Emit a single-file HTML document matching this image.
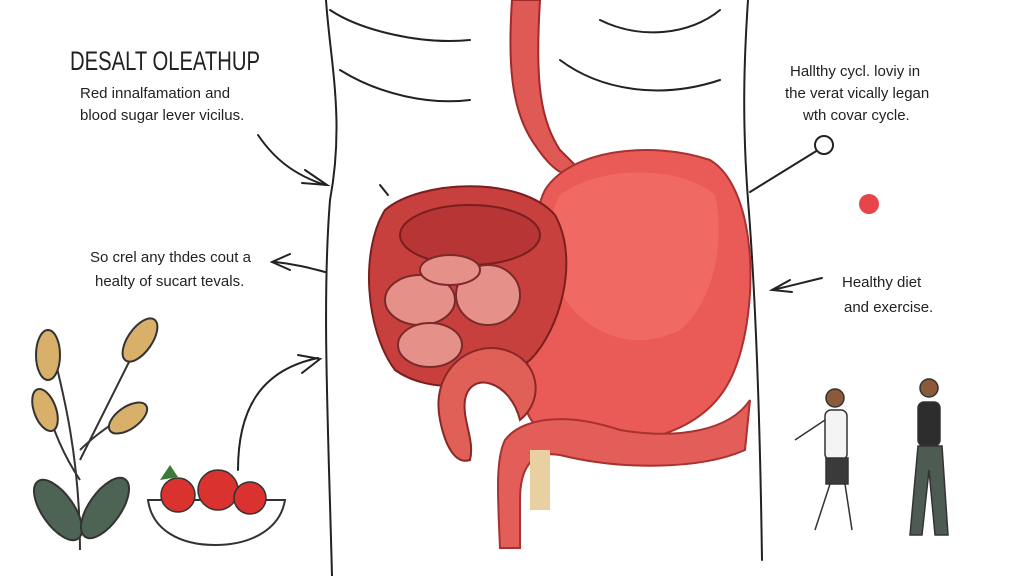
<!DOCTYPE html>
<html><head><meta charset="utf-8"><style>
body{margin:0;background:#fff;width:1024px;height:576px;overflow:hidden}
svg{display:block}
text{font-family:"Liberation Sans",sans-serif;fill:#222}
</style></head><body>
<svg width="1024" height="576" viewBox="0 0 1024 576">
<g fill="none" stroke="#222" stroke-width="2" stroke-linecap="round">
<path d="M326 0 C330 60 345 120 330 200 C322 300 328 420 332 576"/>
<path d="M748 0 C744 60 742 120 748 200 C756 300 760 420 762 560"/>
<path d="M330 10 C360 30 420 45 470 40"/><path d="M340 70 C380 95 430 105 470 100"/>
<path d="M600 20 C640 40 690 35 720 10"/><path d="M560 60 C600 90 660 100 720 80"/>
<path d="M380 185 l8 10"/>
<path d="M258 135 C275 160 295 175 325 185"/><path d="M305 170 l22 15 l-25 -2"/>
<path d="M325 272 C310 268 295 264 275 262"/><path d="M290 254 l-18 8 l18 8"/>
<path d="M238 470 C238 410 260 370 318 358"/><path d="M298 355 l22 4 l-18 14"/>
<path d="M822 278 C805 282 790 286 772 290"/><path d="M790 280 l-18 10 l20 2"/>
<path d="M750 192 L818 150"/>
</g>
<circle cx="824" cy="145" r="9" fill="#fff" stroke="#222" stroke-width="2"/>
<circle cx="869" cy="204" r="10" fill="#e8454a"/>
<path d="M512 0 C508 60 510 110 535 145 C555 175 570 180 580 170 L560 150 C540 120 535 80 540 0Z" fill="#e05a55" stroke="#a02a2a" stroke-width="2"/>
<path d="M545 190 C570 150 650 140 710 160 C760 190 760 320 730 380 C700 440 620 450 560 440 C520 430 510 380 540 340 C560 300 520 240 545 190Z" fill="#ea5b57" stroke="#a83232" stroke-width="2"/>
<path d="M560 195 C600 165 680 165 715 195 C725 240 715 300 680 330 C630 355 580 330 560 290 C545 260 545 220 560 195Z" fill="#f06a63"/>
<path d="M505 440 C520 420 560 410 620 430 C680 440 730 430 750 400 L745 450 C700 470 620 470 560 455 C530 450 520 470 520 500 L520 548 L500 548 C498 500 495 460 505 440Z" fill="#e35e58" stroke="#a83232" stroke-width="2"/>
<path d="M385 210 C420 180 520 175 555 215 C580 260 560 330 530 360 C490 390 430 395 395 370 C365 330 360 250 385 210Z" fill="#c8403d" stroke="#7a1e1e" stroke-width="2"/>
<ellipse cx="470" cy="235" rx="70" ry="30" fill="#b83535" stroke="#7a1e1e" stroke-width="2"/>
<g fill="#e59088" stroke="#7a2a2a" stroke-width="2">
<ellipse cx="420" cy="300" rx="35" ry="25"/><ellipse cx="430" cy="345" rx="32" ry="22"/>
<ellipse cx="488" cy="295" rx="32" ry="30"/><ellipse cx="450" cy="270" rx="30" ry="15"/>
</g>
<path d="M440 420 C430 370 470 340 505 350 C540 360 545 400 520 420 C510 380 470 370 465 400 C462 420 475 440 470 460 C455 465 445 445 440 420Z" fill="#e06058" stroke="#8a2828" stroke-width="2"/>
<rect x="530" y="450" width="20" height="60" fill="#e8d0a0"/>
<text x="70" y="70" font-size="27" textLength="190" lengthAdjust="spacingAndGlyphs">DESALT OLEATHUP</text>
<text x="80" y="98" font-size="15">Red innalfamation and</text>
<text x="80" y="120" font-size="15">blood sugar lever vicilus.</text>
<text x="90" y="262" font-size="15">So crel any thdes cout a</text>
<text x="95" y="286" font-size="15">healty of sucart tevals.</text>
<text x="790" y="76" font-size="15">Hallthy cycl. loviy in</text>
<text x="785" y="98" font-size="15">the verat vically legan</text>
<text x="803" y="120" font-size="15">wth covar cycle.</text>
<text x="842" y="287" font-size="15">Healthy diet</text>
<text x="844" y="312" font-size="15">and exercise.</text>
<g stroke="#333" stroke-width="2">
<path d="M80 550 C80 450 60 380 50 340 M80 460 C100 420 120 380 140 340 M80 480 C60 450 50 420 45 400 M80 450 C100 430 120 420 130 410" fill="none"/>
<ellipse cx="48" cy="355" rx="12" ry="25" fill="#d9b06a"/>
<ellipse cx="140" cy="340" rx="12" ry="25" fill="#d9b06a" transform="rotate(35 140 340)"/>
<ellipse cx="45" cy="410" rx="11" ry="22" fill="#d9b06a" transform="rotate(-20 45 410)"/>
<ellipse cx="128" cy="418" rx="11" ry="22" fill="#d9b06a" transform="rotate(55 128 418)"/>
<ellipse cx="58" cy="510" rx="16" ry="35" fill="#4d6353" transform="rotate(-35 58 510)"/>
<ellipse cx="105" cy="508" rx="16" ry="35" fill="#4d6353" transform="rotate(35 105 508)"/>
</g>
<path d="M148 500 L285 500 C280 530 250 545 215 545 C180 545 152 530 148 500Z" fill="#fff" stroke="#333" stroke-width="2"/>
<g fill="#d9322f" stroke="#333" stroke-width="1.5">
<circle cx="178" cy="495" r="17"/><circle cx="218" cy="490" r="20"/><circle cx="250" cy="498" r="16"/>
</g>
<path d="M160 480 l10 -15 l8 12z" fill="#3d7a3a"/>
<g stroke="#333" stroke-width="1.5">
<circle cx="835" cy="398" r="9" fill="#8a5a3a"/>
<rect x="825" y="410" width="22" height="50" rx="6" fill="#f4f4f4"/>
<rect x="826" y="458" width="22" height="26" fill="#3a3a3a"/>
<path d="M830 484 L815 530 M845 484 L852 530 M825 420 L795 440" fill="none"/>
<circle cx="929" cy="388" r="9" fill="#8a5a3a"/>
<rect x="918" y="402" width="22" height="44" rx="6" fill="#2d2d2d"/>
<path d="M918 446 L910 535 L922 535 L929 470 L935 535 L948 535 L942 446Z" fill="#4e5b52"/>
</g>
</svg>
</body></html>
